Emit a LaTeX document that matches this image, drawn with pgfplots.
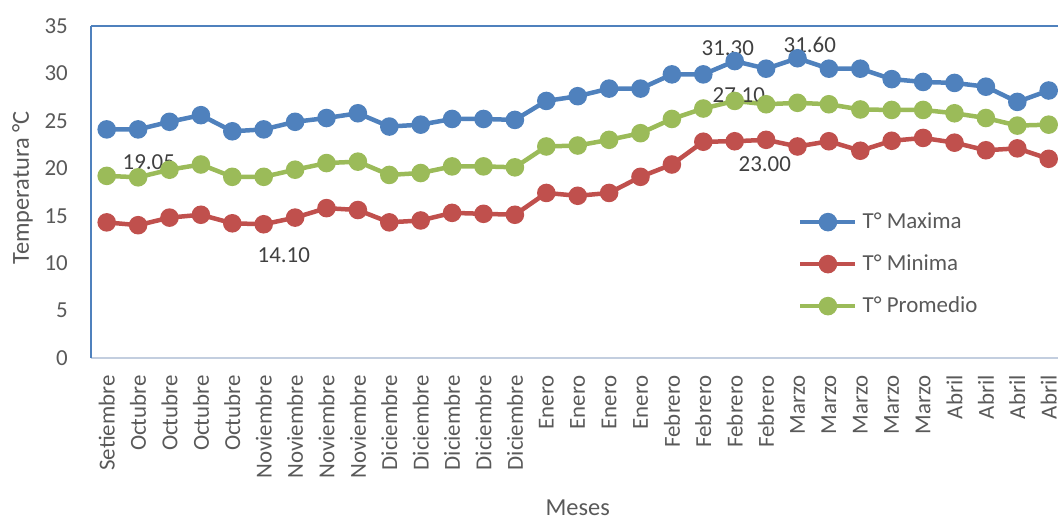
\documentclass[border=0pt]{standalone}
\usepackage{pgfplots}
\pgfplotsset{compat=1.18}
\usepackage{fontspec}
\setmainfont{Carlito}
\definecolor{cMax}{HTML}{4F81BD}
\definecolor{cMin}{HTML}{C0504D}
\definecolor{cProm}{HTML}{9BBB59}
\definecolor{axgray}{HTML}{C3CEDF}
\definecolor{txt}{HTML}{595959}
\definecolor{lbl}{HTML}{404040}
\begin{document}
\begin{tikzpicture}
\begin{axis}[
  at={(91bp,159bp)}, anchor=south west,
  scale only axis, width=973.4bp, height=332bp,
  xmin=0.5, xmax=31.5, ymin=0, ymax=35,
  clip=false,
  xtick={1,...,31},
  xticklabels={Setiembre,Octubre,Octubre,Octubre,Octubre,Noviembre,Noviembre,Noviembre,Noviembre,Diciembre,Diciembre,Diciembre,Diciembre,Diciembre,Enero,Enero,Enero,Enero,Febrero,Febrero,Febrero,Febrero,Marzo,Marzo,Marzo,Marzo,Marzo,Abril,Abril,Abril,Abril},
  ytick={0,5,...,35},
  major tick length=0pt,
  axis x line*=bottom, axis y line*=left,
  x axis line style={-, color=axgray, line width=2bp},
  y axis line style={-, color=cMax, line width=1.5bp},
  /pgf/number format/assume math mode=true,
  tick label style={font=\fontsize{23}{26}\selectfont, color=txt},
  yticklabel style={anchor=east, inner sep=0pt, xshift=-23bp},
  xticklabel style={yshift=-17bp, rotate=90, anchor=east, inner sep=0pt},
  ylabel={Temperatura °C},
  ylabel style={at={(axis description cs:-0.0704,0.512)}, anchor=center, rotate=0, font=\fontsize{24.5}{28}\selectfont, color=txt},
  xlabel={Meses},
  xlabel style={at={(axis description cs:0.5,-0.4729)}, anchor=base, font=\fontsize{24.5}{28}\selectfont, color=txt},
  legend style={at={(axis description cs:0.7263,0.443)}, anchor=north west, draw=none, fill=none,
    font=\fontsize{23}{26}\selectfont, text=txt, inner sep=0pt, row sep=20bp, column sep=5bp,
    nodes={inner sep=0pt, text height=17bp, text depth=5bp}},
  legend cell align=left,
  legend image code/.code={\draw[#1, mark repeat=2, mark phase=2] plot coordinates {(0bp,0bp) (27.5bp,0bp) (55bp,0bp)};},
  every axis plot/.append style={line width=4.5bp, mark=*, mark size=7bp, mark options={solid, line width=0pt}},
  after end axis/.code={\draw[cMax, line width=1.5bp] (rel axis cs:0,1) -- (rel axis cs:1,1) -- (rel axis cs:1,0);},
]
\addplot[color=cMax, mark options={fill=cMax, draw=cMax}] coordinates {
(1,24.1) (2,24.1) (3,24.9) (4,25.6) (5,23.9) (6,24.1) (7,24.9) (8,25.3) (9,25.8)
(10,24.4) (11,24.6) (12,25.2) (13,25.2) (14,25.1) (15,27.1) (16,27.6) (17,28.4) (18,28.4) (19,29.9) (20,29.9)
(21,31.3) (22,30.5) (23,31.6) (24,30.5) (25,30.5) (26,29.4) (27,29.1) (28,29.0) (29,28.6) (30,27.0) (31,28.2)};
\addlegendentry{T° Maxima}
\addplot[color=cMin, mark options={fill=cMin, draw=cMin}] coordinates {
(1,14.3) (2,14.0) (3,14.8) (4,15.1) (5,14.2) (6,14.1) (7,14.8) (8,15.8) (9,15.6)
(10,14.3) (11,14.5) (12,15.3) (13,15.2) (14,15.1) (15,17.4) (16,17.1) (17,17.4) (18,19.1) (19,20.4) (20,22.8)
(21,22.85) (22,23.0) (23,22.3) (24,22.85) (25,21.85) (26,22.9) (27,23.2) (28,22.7) (29,21.9) (30,22.1) (31,21.0)};
\addlegendentry{T° Minima}
\addplot[color=cProm, mark options={fill=cProm, draw=cProm}] coordinates {
(1,19.2) (2,19.05) (3,19.85) (4,20.4) (5,19.1) (6,19.1) (7,19.85) (8,20.55) (9,20.7)
(10,19.3) (11,19.5) (12,20.2) (13,20.2) (14,20.1) (15,22.3) (16,22.4) (17,23.0) (18,23.7) (19,25.2) (20,26.3)
(21,27.1) (22,26.75) (23,26.9) (24,26.75) (25,26.2) (26,26.15) (27,26.15) (28,25.8) (29,25.3) (30,24.5) (31,24.6)};
\addlegendentry{T° Promedio}
\node[font=\fontsize{23}{26}\selectfont, text=lbl, inner sep=0pt] at (axis cs:2.34,20.66) {19.05};
\node[font=\fontsize{23}{26}\selectfont, text=lbl, inner sep=0pt] at (axis cs:6.64,10.86) {14.10};
\node[font=\fontsize{23}{26}\selectfont, text=lbl, inner sep=0pt] at (axis cs:20.78,32.68) {31.30};
\node[font=\fontsize{23}{26}\selectfont, text=lbl, inner sep=0pt] at (axis cs:23.39,33.0) {31.60};
\node[font=\fontsize{23}{26}\selectfont, text=lbl, inner sep=0pt] at (axis cs:21.13,27.73) {27.10};
\node[font=\fontsize{23}{26}\selectfont, text=lbl, inner sep=0pt] at (axis cs:21.96,20.45) {23.00};
\end{axis}
\pgfresetboundingbox
\path[use as bounding box] (0,0) rectangle (1058bp,517bp);
\end{tikzpicture}
\end{document}
